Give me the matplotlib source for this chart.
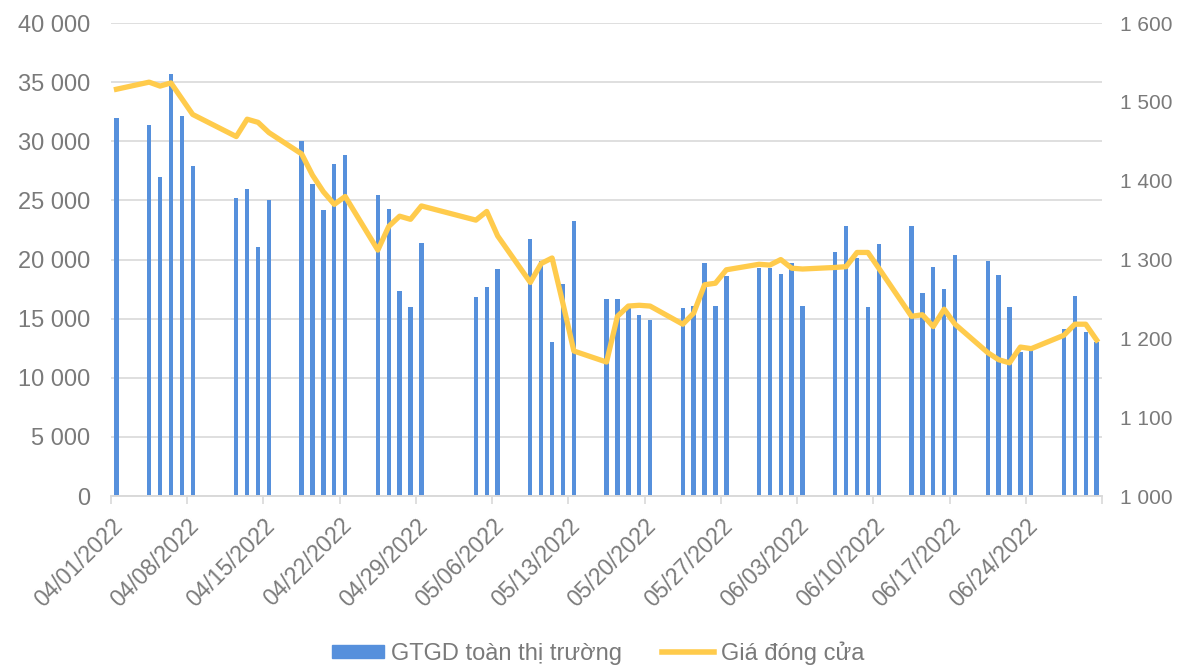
import numpy as np
import pandas as pd
import matplotlib
matplotlib.use('Agg')
import matplotlib.pyplot as plt
import matplotlib.dates as mdates
from matplotlib.ticker import FuncFormatter
from matplotlib.patches import Patch
from matplotlib.lines import Line2D

plt.rcParams['font.family'] = ['Liberation Sans', 'DejaVu Sans']

# ngay giao dich (HOSE, Q2/2022)
ngay = ['2022-04-01',
        '2022-04-04', '2022-04-05', '2022-04-06', '2022-04-07', '2022-04-08',
        '2022-04-12', '2022-04-13', '2022-04-14', '2022-04-15',
        '2022-04-18', '2022-04-19', '2022-04-20', '2022-04-21', '2022-04-22',
        '2022-04-25', '2022-04-26', '2022-04-27', '2022-04-28', '2022-04-29',
        '2022-05-04', '2022-05-05', '2022-05-06',
        '2022-05-09', '2022-05-10', '2022-05-11', '2022-05-12', '2022-05-13',
        '2022-05-16', '2022-05-17', '2022-05-18', '2022-05-19', '2022-05-20',
        '2022-05-23', '2022-05-24', '2022-05-25', '2022-05-26', '2022-05-27',
        '2022-05-30', '2022-05-31', '2022-06-01', '2022-06-02', '2022-06-03',
        '2022-06-06', '2022-06-07', '2022-06-08', '2022-06-09', '2022-06-10',
        '2022-06-13', '2022-06-14', '2022-06-15', '2022-06-16', '2022-06-17',
        '2022-06-20', '2022-06-21', '2022-06-22', '2022-06-23', '2022-06-24',
        '2022-06-27', '2022-06-28', '2022-06-29', '2022-06-30']

gtgd = [32000,
        31400, 27000, 35700, 32100, 27900,
        25200, 26000, 21100, 25000,
        30000, 26400, 24200, 28100, 28800,
        25500, 24300, 17300, 16000, 21400,
        16800, 17700, 19200,
        21700, 19900, 13000, 17900, 23300,
        16700, 16700, 15900, 15300, 14900,
        15900, 16100, 19700, 16100, 18600,
        19300, 19300, 18800, 19700, 16100,
        20600, 22800, 20100, 16000, 21300,
        22800, 17200, 19400, 17500, 20400,
        19900, 18700, 16000, 12200, 12500,
        14100, 16900, 13900, 13000]

gia_dong_cua = [1516,
                1525, 1520, 1524, 1504, 1484,
                1456, 1478, 1474, 1461,
                1434, 1407, 1386, 1370, 1380,
                1312, 1342, 1355, 1351, 1368,
                1350, 1361, 1330,
                1271, 1295, 1302, 1244, 1184,
                1170, 1228, 1241, 1242, 1241,
                1218, 1232, 1268, 1270, 1287,
                1294, 1293, 1300, 1289, 1288,
                1290, 1291, 1309, 1309, 1289,
                1228, 1230, 1215, 1237, 1218,
                1182, 1173, 1169, 1189, 1187,
                1204, 1218, 1218, 1198]

tick_labels = ['04/01/2022', '04/08/2022', '04/15/2022', '04/22/2022', '04/29/2022',
               '05/06/2022', '05/13/2022', '05/20/2022', '05/27/2022', '06/03/2022',
               '06/10/2022', '06/17/2022', '06/24/2022', '']

xam = '#7a7a7a'
xanh = '#5690DC'
vang = '#FFCB4C'

d = pd.to_datetime(ngay)
x = mdates.date2num(d) + 0.5

fig = plt.figure(figsize=(11.85, 6.65), dpi=100)
ax = fig.add_axes([0.0937, 0.254, 0.8363, 0.7114])
ax2 = ax.twinx()

ax.bar(x, gtgd, width=0.4, color=xanh, zorder=2)
ax2.plot(x, gia_dong_cua, color=vang, lw=3.8, solid_joinstyle='round', zorder=3)

x0 = mdates.date2num(pd.Timestamp('2022-04-01'))
ax.set_xlim(x0, x0 + 91)
ax.set_xticks(x0 + np.arange(0, 92, 7))
ax.set_xticklabels(tick_labels, rotation=45, ha='right', rotation_mode='anchor',
                   fontsize=16.5, color=xam)
ax.tick_params(axis='x', length=6, color='#d9d9d9', width=1.2, pad=7)

ax.set_ylim(0, 40000)
ax.set_yticks(np.arange(0, 40001, 5000))
ax2.set_ylim(1000, 1600)
ax2.set_yticks(np.arange(1000, 1601, 100))

fmt = FuncFormatter(lambda v, p: f'{int(v):,}'.replace(',', ' '))
ax.yaxis.set_major_formatter(fmt)
ax2.yaxis.set_major_formatter(fmt)
ax.tick_params(axis='y', length=0, labelsize=17, labelcolor=xam, pad=15)
ax2.tick_params(axis='y', length=0, labelsize=15, labelcolor=xam, pad=13)

ax.grid(axis='y', color='#d9d9d9', lw=1.2, zorder=0)
ax.set_axisbelow(True)
for a in (ax, ax2):
    for s in ['top', 'left', 'right']:
        a.spines[s].set_visible(False)
    a.spines['bottom'].set_color('#d9d9d9')
    a.spines['bottom'].set_linewidth(1.2)

handles = [Patch(color=xanh, label='GTGD toàn thị trường'),
           Line2D([0], [0], color=vang, lw=4, label='Giá đóng cửa')]
fig.legend(handles=handles, loc='center', bbox_to_anchor=(0.505, 0.018), ncol=2,
           frameon=False, fontsize=17, labelcolor=xam, handlelength=2.2,
           handleheight=0.5, columnspacing=1.7, handletextpad=0.3)

fig.savefig('out.png', dpi=100)
